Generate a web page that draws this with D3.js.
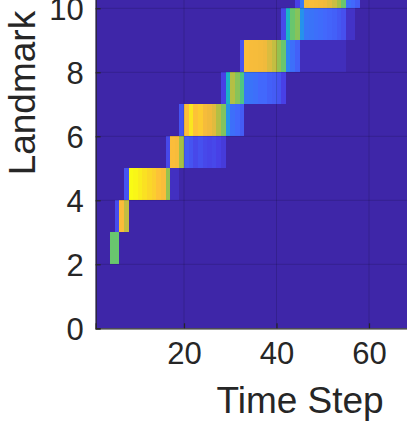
<!DOCTYPE html>
<html><head><meta charset="utf-8">
<script src="https://cdn.jsdelivr.net/npm/d3@7"></script>
<style>html,body{margin:0;padding:0;background:#fff;overflow:hidden}</style>
</head><body><script>
const W = 407, H = 423;
// axis ticks (those inside the visible picture)
const xTicks = [20, 40, 60];
const yTicks = [0, 2, 4, 6, 8, 10];
const xDomain = [0.9, 89.3];
const yDomain = [0, 14.7];
// heatmap rows: each row spans [landmark, landmark+1]; cell t spans [t, t+1]
const landmarkRows = [2, 3, 4, 5, 6, 7, 8, 9, 10];
const rowStart = [4, 5, 7, 16, 19, 28, 32, 41, 44];
const row2 = [0.62, 0.62];
const row3 = [0.13, 0.86, 0.74];
const row4 = [0.15, 1.0, 0.99, 0.97, 0.95, 0.93, 0.91, 0.88, 0.85, 0.68, 0.04, 0.04];
const row5 = [0.12, 0.86, 0.84, 0.70, 0.17, 0.15, 0.12, 0.14, 0.12, 0.11, 0.12, 0.10, 0.08];
const row6 = [0.15, 0.87, 0.96, 0.88, 0.90, 0.83, 0.80, 0.78, 0.72, 0.65, 0.33, 0.22, 0.20, 0.17];
const row7 = [0.10, 0.45, 0.72, 0.66, 0.58, 0.24, 0.23, 0.22, 0.20, 0.20, 0.18, 0.17, 0.15, 0.10];
const row8 = [0.15, 0.85, 0.84, 0.83, 0.82, 0.80, 0.77, 0.74, 0.68, 0.62, 0.28, 0.22, 0.18, 0.03, 0.03, 0.03, 0.03, 0.03, 0.03, 0.03, 0.03, 0.03, 0.03];
const row9 = [0.12, 0.45, 0.62, 0.66, 0.32, 0.24, 0.23, 0.22, 0.21, 0.20, 0.19, 0.18, 0.16, 0.14, 0.05, 0.05];
const row10 = [0.10, 0.25, 0.83, 0.85, 0.84, 0.82, 0.80, 0.78, 0.75, 0.70, 0.62, 0.22, 0.20, 0.17];
const rowValues = [row2, row3, row4, row5, row6, row7, row8, row9, row10];
// parula-like colormap stops
const cmapStops = [0, 0.1, 0.2, 0.3, 0.4, 0.5, 0.6, 0.7, 0.8, 0.87, 0.93, 1.0];
const cmapColors = ["#3e26a8", "#4840e6", "#4268fc", "#288cf0", "#19aad7", "#1ebeb4",
                    "#5ac878", "#a5c046", "#f0ba3c", "#fdbe3a", "#fad728", "#f9fb14"];

const svg = d3.select("body").append("svg").attr("width", W).attr("height", H)
  .style("font-family", "'Liberation Sans', Arial, Helvetica, sans-serif");

const x = d3.scaleLinear().domain(xDomain).range([91.5 + 4.625 * xDomain[0], 91.5 + 4.625 * xDomain[1]]);
const y = d3.scaleLinear().domain(yDomain).range([328.3, 328.3 - 32 * yDomain[1]]);
const color = d3.scaleLinear().domain(cmapStops).range(cmapColors).interpolate(d3.interpolateRgb).clamp(true);

const cells = [];
landmarkRows.forEach((r, i) => {
  rowValues[i].forEach((v, j) => cells.push({ row: r, t: rowStart[i] + j, v }));
});

const plot = svg.append("g");
plot.append("rect")
  .attr("x", x(xDomain[0])).attr("y", y(yDomain[1]))
  .attr("width", x(xDomain[1]) - x(xDomain[0])).attr("height", y(yDomain[0]) - y(yDomain[1]))
  .attr("fill", color(0));

plot.selectAll("rect.cell").data(cells).join("rect").attr("class", "cell")
  .attr("x", d => x(d.t)).attr("y", d => y(d.row + 1))
  .attr("width", d => x(d.t + 1) - x(d.t)).attr("height", d => y(d.row) - y(d.row + 1))
  .attr("fill", d => color(d.v))
  .attr("shape-rendering", "crispEdges");

// grid
const grid = svg.append("g").attr("stroke", "#000").attr("stroke-opacity", 0.15).attr("stroke-width", 1);
grid.selectAll("line.vx").data(xTicks).join("line")
  .attr("x1", d => x(d)).attr("x2", d => x(d)).attr("y1", y(yDomain[0])).attr("y2", y(yDomain[1]));
grid.selectAll("line.hy").data(yTicks.filter(d => d > 0)).join("line")
  .attr("x1", x(xDomain[0])).attr("x2", x(xDomain[1])).attr("y1", d => y(d)).attr("y2", d => y(d));

// axes
const ax = d3.axisBottom(x).tickValues(xTicks).tickSize(-5).tickPadding(14).tickFormat(d3.format("d"));
const ay = d3.axisLeft(y).tickValues(yTicks).tickSize(-5).tickPadding(12).tickFormat(d3.format("d"));
const gx = svg.append("g").attr("transform", `translate(0,${y(0)})`).call(ax);
const gy = svg.append("g").attr("transform", `translate(${x(xDomain[0])},0)`).call(ay);
[gx, gy].forEach(g => {
  g.select(".domain").attr("stroke", "#262626").attr("stroke-width", 1.2);
  g.selectAll(".tick line").attr("stroke", "#262626").attr("stroke-width", 1.2);
  g.selectAll(".tick text").attr("fill", "#262626").style("font-size", "31px")
    .style("font-family", "'Liberation Sans', Arial, Helvetica, sans-serif");
});
gy.selectAll(".tick text").attr("dy", "0.36em");

svg.append("text").attr("x", (x(xDomain[0]) + x(xDomain[1])) / 2).attr("y", 412.7)
  .attr("text-anchor", "middle").attr("fill", "#262626").style("font-size", "37px").text("Time Step");
svg.append("text")
  .attr("transform", `translate(34.5,${(y(yDomain[0]) + y(yDomain[1])) / 2}) rotate(-90)`)
  .attr("text-anchor", "middle").attr("fill", "#262626").style("font-size", "37px").text("Landmark");
</script></body></html>
